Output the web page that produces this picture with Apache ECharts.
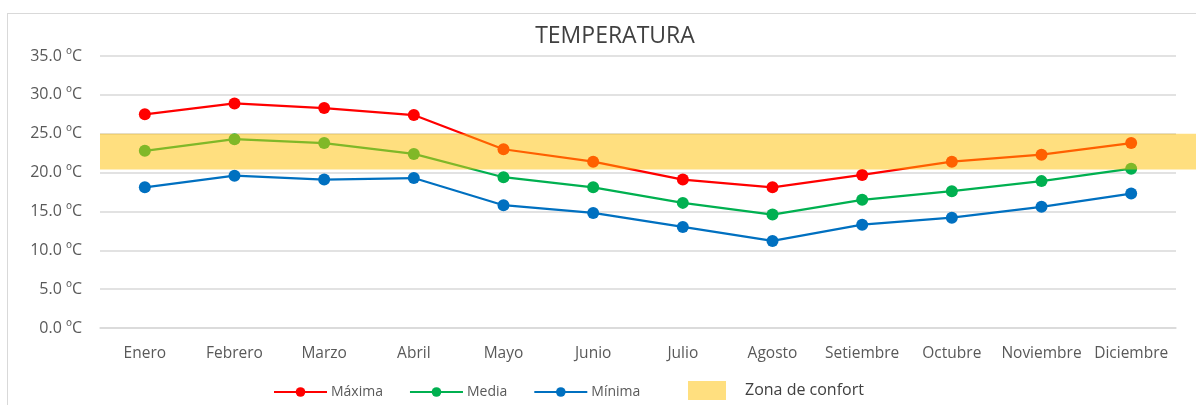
<!DOCTYPE html>
<html>
<head>
<meta charset="utf-8">
<script src="https://cdn.jsdelivr.net/npm/echarts@6/dist/echarts.min.js"></script>
<style>
  html, body { margin: 0; padding: 0; background: #fff; }
  #frame { position: absolute; left: 7px; top: 13px; width: 1300px; height: 500px; border: 1.5px solid #D9D9D9; box-sizing: border-box; }
  #chart { position: absolute; left: 0; top: 0; width: 1196px; height: 405px; }
</style>
</head>
<body>
<div id="frame"></div>
<div id="chart"></div>
<script>
const months = ['Enero','Febrero','Marzo','Abril','Mayo','Junio','Julio','Agosto','Setiembre','Octubre','Noviembre','Diciembre'];
const maxima = [27.5, 28.9, 28.3, 27.4, 23.0, 21.4, 19.1, 18.1, 19.7, 21.4, 22.3, 23.8];
const media  = [22.8, 24.3, 23.8, 22.4, 19.4, 18.1, 16.1, 14.6, 16.5, 17.6, 18.9, 20.5];
const minima = [18.1, 19.6, 19.1, 19.3, 15.8, 14.8, 13.0, 11.2, 13.3, 14.2, 15.6, 17.3];
const zonaMin = 20.4;
const zonaMax = 25.0;
const yTicks = { min: 0, max: 35, interval: 5 };

const FONT = '"Open Sans"';
const chart = echarts.init(document.getElementById('chart'), null, { renderer: 'canvas' });

function lineSeries(name, data, color) {
  return {
    name, type: 'line', data,
    xAxisIndex: 0, yAxisIndex: 0,
    symbol: 'circle', symbolSize: 12,
    lineStyle: { color, width: 2.25 },
    itemStyle: { color },
    z: 2,
    animation: false
  };
}

chart.setOption({
  animation: false,
  backgroundColor: 'transparent',
  title: {
    text: 'TEMPERATURA',
    left: 610, top: 20, textAlign: 'center',
    textStyle: { fontFamily: FONT, fontSize: 23, fontWeight: 'normal', color: '#404040' }
  },
  legend: [
    {
      data: ['Máxima', 'Media', 'Mínima'],
      left: 273, top: 385, padding: 0,
      itemWidth: 53, itemHeight: 12, itemGap: 26,
      textStyle: { fontFamily: FONT, fontSize: 14, color: '#595959', padding: [0,0,0,-1] }
    },
    {
      data: [{ name: 'Zona de confort', icon: 'rect' }],
      left: 688, top: 381, padding: 0,
      itemWidth: 38, itemHeight: 19, itemGap: 10,
      textStyle: { fontFamily: FONT, fontSize: 16, color: '#404040', padding: [1,0,0,14] }
    }
  ],
  grid: [
    { left: 100, right: 20, top: 56, bottom: 405 - 328, containLabel: false },
    { left: 100, right: 0, top: 56, bottom: 405 - 328, containLabel: false }
  ],
  xAxis: [
    {
      type: 'category', data: months, gridIndex: 0,
      boundaryGap: true,
      axisLine: { show: true, lineStyle: { color: '#D9D9D9', width: 1.5 } },
      axisTick: { show: false },
      axisLabel: { fontFamily: FONT, fontSize: 15.5, color: '#595959', margin: 18, interval: 0 }
    },
    {
      type: 'category', data: ['zona'], gridIndex: 1, show: false, boundaryGap: true
    }
  ],
  yAxis: [
    {
      type: 'value', gridIndex: 0,
      min: yTicks.min, max: yTicks.max, interval: yTicks.interval,
      axisLine: { show: false }, axisTick: { show: false },
      splitLine: { lineStyle: { color: '#D9D9D9', width: 1.5 } },
      axisLabel: { fontFamily: FONT, fontSize: 16, color: '#595959', margin: 18,
        formatter: v => v.toFixed(1) + ' ºC' }
    },
    {
      type: 'value', gridIndex: 1, show: false,
      min: yTicks.min, max: yTicks.max, interval: yTicks.interval,
      splitLine: { show: false }
    }
  ],
  series: [
    lineSeries('Máxima', maxima, '#FF0000'),
    lineSeries('Media', media, '#00B050'),
    lineSeries('Mínima', minima, '#0070C0'),
    {
      name: 'zonaBase', type: 'bar', xAxisIndex: 1, yAxisIndex: 1,
      stack: 'zona', data: [zonaMin], barWidth: '100%',
      itemStyle: { color: 'transparent' }, silent: true, z: 5
    },
    {
      name: 'Zona de confort', type: 'bar', xAxisIndex: 1, yAxisIndex: 1,
      stack: 'zona', data: [zonaMax - zonaMin], barWidth: '100%',
      itemStyle: { color: 'rgba(255,192,0,0.5)' }, silent: true, z: 5
    }
  ]
});
</script>
</body>
</html>
